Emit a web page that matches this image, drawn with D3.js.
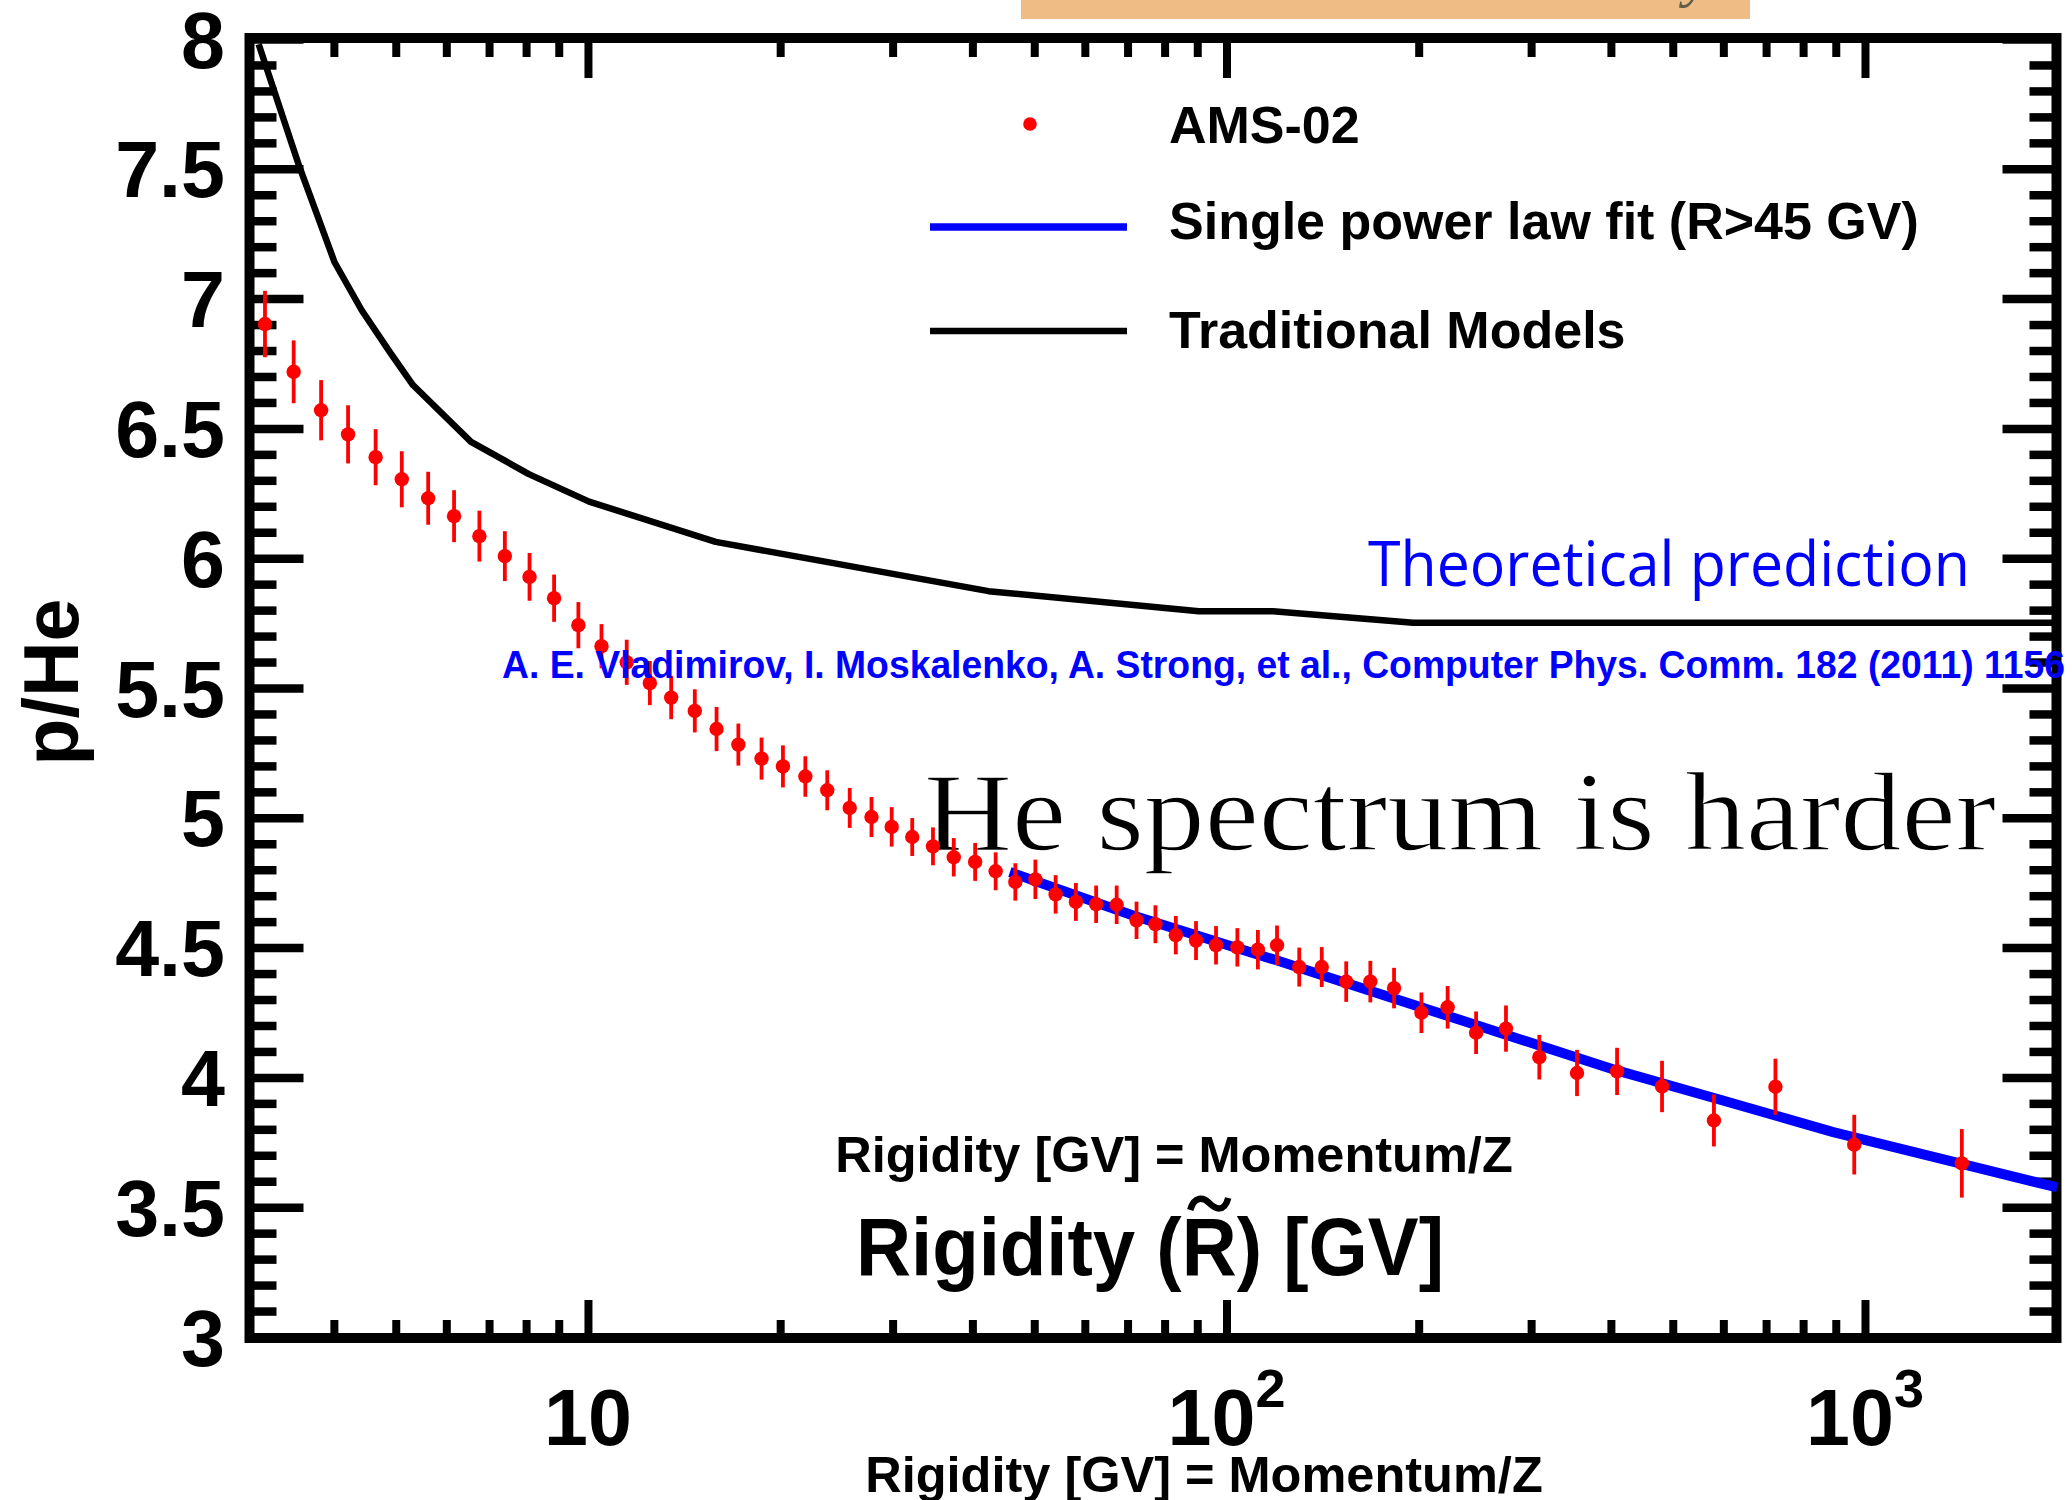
<!DOCTYPE html>
<html>
<head>
<meta charset="utf-8">
<script src="https://cdn.jsdelivr.net/npm/d3@7"></script>
<style>
  html, body { margin: 0; padding: 0; background: #fff; }
  svg { display: block; }
</style>
</head>
<body>
<svg id="chart" width="2072" height="1500"></svg>
<script>
// p/He flux ratio versus rigidity: AMS-02 points, a single power-law fit and a traditional model curve

// AMS-02 measurements
const rigidity = [3.12, 3.46, 3.82, 4.21, 4.65, 5.11, 5.62, 6.17, 6.76, 7.41,
  8.10, 8.85, 9.66, 10.5, 11.5, 12.5, 13.5, 14.7, 15.9, 17.2,
  18.7, 20.2, 21.9, 23.7, 25.7, 27.8, 29.9, 32.2, 34.7, 37.4,
  40.4, 43.5, 46.7, 50.2, 54.0, 58.1, 62.5, 67.3, 72.3, 77.4,
  83.3, 89.6, 96.3, 104, 112, 120, 130, 141, 154, 168,
  183, 202, 222, 246, 274, 309, 354, 409, 481, 580,
  724, 962, 1418];
const ratio = [6.902, 6.718, 6.570, 6.477, 6.389, 6.304, 6.231, 6.162, 6.085, 6.008,
  5.928, 5.846, 5.742, 5.661, 5.599, 5.519, 5.463, 5.412, 5.342, 5.282,
  5.228, 5.198, 5.159, 5.106, 5.038, 5.003, 4.965, 4.926, 4.890, 4.848,
  4.830, 4.794, 4.753, 4.763, 4.705, 4.676, 4.667, 4.665, 4.605, 4.590,
  4.548, 4.527, 4.509, 4.501, 4.492, 4.509, 4.425, 4.425, 4.369, 4.369,
  4.344, 4.249, 4.270, 4.172, 4.188, 4.078, 4.017, 4.023, 3.965, 3.834,
  3.964, 3.741, 3.669];
const ratioErr = [0.128, 0.121, 0.116, 0.112, 0.108, 0.108, 0.102, 0.100, 0.098, 0.096,
  0.092, 0.091, 0.089, 0.085, 0.087, 0.085, 0.083, 0.083, 0.085, 0.081,
  0.081, 0.081, 0.078, 0.077, 0.077, 0.077, 0.076, 0.073, 0.073, 0.074,
  0.073, 0.073, 0.072, 0.076, 0.074, 0.073, 0.072, 0.074, 0.072, 0.073,
  0.074, 0.075, 0.074, 0.074, 0.076, 0.076, 0.075, 0.077, 0.078, 0.080,
  0.078, 0.078, 0.082, 0.082, 0.089, 0.086, 0.089, 0.091, 0.099, 0.100,
  0.108, 0.115, 0.132];

// Single power law fit above 45 GV
const fitRigidity = [45.8, 71.4, 119.8, 146.8, 237.8, 408.5, 585.9, 891.9, 1417.6, 2000];
const fitRatio = [4.791, 4.624, 4.451, 4.380, 4.213, 4.027, 3.918, 3.789, 3.667, 3.576];

// Traditional propagation model
const modelRigidity = [3.05, 3.53, 4.01, 4.42, 4.91, 5.32, 6.56, 8.08, 10.04, 15.85, 42.4, 90.5, 118.3, 196, 2000];
const modelRatio = [7.98, 7.51, 7.14, 6.956, 6.789, 6.667, 6.448, 6.324, 6.218, 6.063, 5.873, 5.796, 5.796, 5.751, 5.751];

// Axis ticks and labels
const yMajorTicks = [3, 3.5, 4, 4.5, 5, 5.5, 6, 6.5, 7, 7.5, 8];
const yTickLabels = ["3", "3.5", "4", "4.5", "5", "5.5", "6", "6.5", "7", "7.5", "8"];
const yMinorTicks = [3.1, 3.2, 3.3, 3.4, 3.6, 3.7, 3.8, 3.9, 4.1, 4.2, 4.3, 4.4, 4.6, 4.7, 4.8, 4.9,
  5.1, 5.2, 5.3, 5.4, 5.6, 5.7, 5.8, 5.9, 6.1, 6.2, 6.3, 6.4, 6.6, 6.7, 6.8, 6.9,
  7.1, 7.2, 7.3, 7.4, 7.6, 7.7, 7.8, 7.9];
const xMajorTicks = [10, 100, 1000];
const xTickBase = ["10", "10", "10"];
const xTickExp = ["", "2", "3"];
const xMinorTicks = [4, 5, 6, 7, 8, 9, 20, 30, 40, 50, 60, 70, 80, 90, 200, 300, 400, 500, 600, 700, 800, 900];

const SANS = "'Liberation Sans', Arial, Helvetica, sans-serif";
const W = 2072, H = 1500;
const frame = { x0: 249.5, x1: 2056.5, y0: 38, y1: 1338 };

const svg = d3.select("#chart");
svg.append("rect").attr("width", W).attr("height", H).attr("fill", "#fff");

const x = d3.scaleLog().domain([3, 2000]).range([254.1, 2057.2]);
const y = d3.scaleLinear().domain([3, 8]).range([1337, 39]);

// header strip
svg.append("rect").attr("x", 1021).attr("y", 0).attr("width", 729).attr("height", 19).attr("fill", "#f0bc86");
svg.append("text").attr("x", 1684).attr("y", -5)
  .attr("font-family", "'Liberation Serif', serif").attr("font-style", "italic")
  .attr("font-size", 60).attr("fill", "#5f5c4a").text("y");

// tick marks on all four sides
function tickRow(axisGen, values, len, width, tx, ty) {
  const g = svg.append("g").attr("transform", `translate(${tx},${ty})`)
    .call(axisGen.tickValues(values).tickSize(-len).tickSizeOuter(0).tickFormat(""));
  g.select(".domain").remove();
  g.selectAll(".tick text").remove();
  g.selectAll(".tick line").attr("stroke", "#000").attr("stroke-width", width);
}
tickRow(d3.axisLeft(y), yMinorTicks, 27, 8.5, frame.x0, 0);
tickRow(d3.axisLeft(y), yMajorTicks, 54, 8.5, frame.x0, 0);
tickRow(d3.axisRight(y), yMinorTicks, 27, 8.5, frame.x1, 0);
tickRow(d3.axisRight(y), yMajorTicks, 54, 8.5, frame.x1, 0);
tickRow(d3.axisBottom(x), xMinorTicks, 18, 8, 0, frame.y1);
tickRow(d3.axisBottom(x), xMajorTicks, 38, 8, 0, frame.y1);
tickRow(d3.axisTop(x), xMinorTicks, 19, 8, 0, frame.y0);
tickRow(d3.axisTop(x), xMajorTicks, 40, 8, 0, frame.y0);

// plot frame
svg.append("rect")
  .attr("x", frame.x0).attr("y", frame.y0)
  .attr("width", frame.x1 - frame.x0).attr("height", frame.y1 - frame.y0)
  .attr("fill", "none").attr("stroke", "#000").attr("stroke-width", 10);

// tick labels
svg.append("g").selectAll("text").data(yMajorTicks).join("text")
  .attr("x", 225).attr("y", d => y(d) + 28.5)
  .attr("text-anchor", "end")
  .attr("font-family", SANS).attr("font-weight", "bold").attr("font-size", 79)
  .text((d, i) => yTickLabels[i]);

const xl = svg.append("g").selectAll("text").data(xMajorTicks).join("text")
  .attr("x", d => x(d)).attr("y", 1445)
  .attr("text-anchor", "middle")
  .attr("font-family", SANS).attr("font-weight", "bold").attr("font-size", 79);
xl.append("tspan").text((d, i) => xTickBase[i]);
xl.append("tspan").attr("font-size", 54).attr("dy", -38).text((d, i) => xTickExp[i]);

// axis titles
svg.append("text")
  .attr("transform", "translate(78,682) rotate(-90)")
  .attr("text-anchor", "middle")
  .attr("font-family", SANS).attr("font-weight", "bold").attr("font-size", 77)
  .text("p/He");

svg.append("text").attr("x", 1204).attr("y", 1492).attr("text-anchor", "middle")
  .attr("font-family", SANS).attr("font-weight", "bold").attr("font-size", 50.5)
  .text("Rigidity [GV] = Momentum/Z");

svg.append("text").attr("x", 1174).attr("y", 1172).attr("text-anchor", "middle")
  .attr("font-family", SANS).attr("font-weight", "bold").attr("font-size", 50.5)
  .text("Rigidity [GV] = Momentum/Z");

const bigTitle = svg.append("text").attr("x", 856).attr("y", 1275)
  .attr("font-family", SANS).attr("font-weight", "bold").attr("font-size", 81)
  .attr("textLength", 588).attr("lengthAdjust", "spacingAndGlyphs")
  .text("Rigidity (R) [GV]");
// tilde accent over the R
{
  const box = bigTitle.node().getExtentOfChar(10);
  const cx = box.x + box.width / 2, cy = 1204;
  svg.append("path")
    .attr("d", `M${cx - 19},${cy + 6} C${cx - 15},${cy - 8} ${cx - 6},${cy - 7} ${cx},${cy - 1}` +
               ` S${cx + 15},${cy + 9} ${cx + 19},${cy - 6}`)
    .attr("fill", "none").attr("stroke", "#000").attr("stroke-width", 6.5)
    .attr("stroke-linecap", "butt");
}

// annotation behind the data
svg.append("text").attr("x", 924).attr("y", 850)
  .attr("font-family", "'Liberation Serif', 'Times New Roman', serif").attr("font-size", 113)
  .attr("textLength", 1072).attr("lengthAdjust", "spacingAndGlyphs")
  .attr("fill", "#000").attr("stroke", "#fff").attr("stroke-width", 1.4)
  .text("He spectrum is harder");

const line = d3.line().x(d => x(d[0])).y(d => y(d[1]));

// traditional model
svg.append("path")
  .attr("d", line(modelRigidity.map((r, i) => [r, modelRatio[i]])))
  .attr("fill", "none").attr("stroke", "#000").attr("stroke-width", 6.5)
  .attr("stroke-linejoin", "round");

// power law fit
svg.append("path")
  .attr("d", line(fitRigidity.map((r, i) => [r, fitRatio[i]])))
  .attr("fill", "none").attr("stroke", "#0000ff").attr("stroke-width", 10)
  .attr("stroke-linejoin", "round");

// AMS-02 points with error bars
const pts = rigidity.map((r, i) => ({ r, v: ratio[i], e: ratioErr[i] }));
svg.append("g").selectAll("line").data(pts).join("line")
  .attr("x1", d => x(d.r)).attr("x2", d => x(d.r))
  .attr("y1", d => y(d.v + d.e)).attr("y2", d => y(d.v - d.e))
  .attr("stroke", "#ff0000").attr("stroke-width", 3.8);
svg.append("g").selectAll("circle").data(pts).join("circle")
  .attr("cx", d => x(d.r)).attr("cy", d => y(d.v)).attr("r", 7.2)
  .attr("fill", "#ff0000");

// legend
svg.append("circle").attr("cx", 1030).attr("cy", 124).attr("r", 6.8).attr("fill", "#ff0000");
svg.append("line").attr("x1", 930).attr("x2", 1127).attr("y1", 227).attr("y2", 227)
  .attr("stroke", "#0000ff").attr("stroke-width", 7.5);
svg.append("line").attr("x1", 930).attr("x2", 1127).attr("y1", 331).attr("y2", 331)
  .attr("stroke", "#000").attr("stroke-width", 6.5);
const legendText = [["AMS-02", 143], ["Single power law fit (R>45 GV)", 239], ["Traditional Models", 348]];
svg.append("g").selectAll("text").data(legendText).join("text")
  .attr("x", 1169).attr("y", d => d[1])
  .attr("font-family", SANS).attr("font-weight", "bold").attr("font-size", 52)
  .text(d => d[0]);

// model annotation and reference
svg.append("text").attr("x", 1368).attr("y", 586)
  .attr("font-family", "'Open Sans', 'Noto Sans', sans-serif").attr("font-size", 62)
  .attr("textLength", 602).attr("lengthAdjust", "spacingAndGlyphs")
  .attr("fill", "#0000ff")
  .text("Theoretical prediction");

svg.append("text").attr("x", 502).attr("y", 678)
  .attr("font-family", SANS).attr("font-weight", "bold").attr("font-size", 38)
  .attr("textLength", 1563).attr("lengthAdjust", "spacingAndGlyphs")
  .attr("fill", "#0000ff")
  .text("A. E. Vladimirov, I. Moskalenko, A. Strong, et al., Computer Phys. Comm. 182 (2011) 1156");
</script>
</body>
</html>
